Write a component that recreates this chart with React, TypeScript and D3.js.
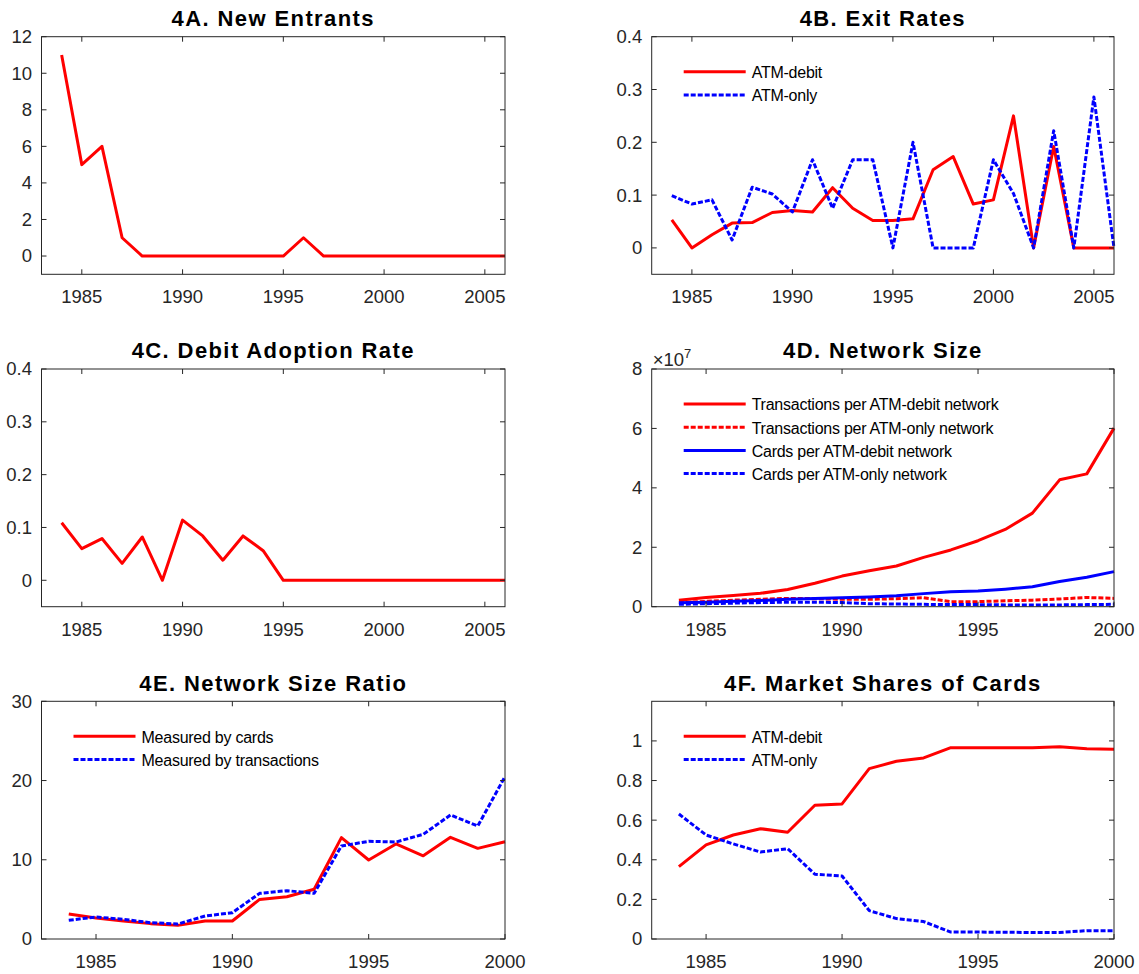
import React from "react";
import * as d3 from "d3";

// ---------- DATA ----------
const yearsLong = d3.range(1984, 2007); // 1984..2006
const yearsShort = d3.range(1984, 2001); // 1984..2000

const newEntrants = [11, 5, 6, 1, 0, 0, 0, 0, 0, 0, 0, 0, 1, 0, 0, 0, 0, 0, 0, 0, 0, 0, 0];

const exitDebit = [0.053, 0, 0.025, 0.047, 0.048, 0.067, 0.071, 0.068, 0.114, 0.075, 0.052, 0.052, 0.055, 0.148, 0.173, 0.083, 0.091, 0.25, 0, 0.192, 0, 0, 0];
const exitOnly = [0.099, 0.083, 0.091, 0.015, 0.115, 0.102, 0.068, 0.167, 0.075, 0.167, 0.167, 0, 0.2, 0, 0, 0, 0.167, 0.103, 0, 0.222, 0, 0.286, 0];

const adoptionRate = [0.109, 0.06, 0.079, 0.032, 0.082, 0, 0.114, 0.084, 0.038, 0.084, 0.056, 0, 0, 0, 0, 0, 0, 0, 0, 0, 0, 0, 0];

// Network size, in units of 10^7
const txDebit = [0.22, 0.31, 0.38, 0.45, 0.58, 0.79, 1.03, 1.21, 1.37, 1.66, 1.91, 2.22, 2.6, 3.15, 4.27, 4.47, 6.01];
const txOnly = [0.13, 0.18, 0.22, 0.25, 0.28, 0.27, 0.25, 0.25, 0.27, 0.3, 0.17, 0.17, 0.2, 0.22, 0.26, 0.31, 0.28];
const cardsDebit = [0.13, 0.15, 0.18, 0.21, 0.25, 0.28, 0.3, 0.33, 0.37, 0.44, 0.5, 0.53, 0.59, 0.67, 0.85, 0.99, 1.18];
const cardsOnly = [0.08, 0.1, 0.12, 0.14, 0.15, 0.15, 0.14, 0.1, 0.09, 0.08, 0.07, 0.07, 0.06, 0.06, 0.06, 0.07, 0.08];

const ratioCards = [3.16, 2.65, 2.27, 1.94, 1.72, 2.27, 2.27, 5.0, 5.34, 6.27, 12.8, 9.97, 12.0, 10.5, 12.83, 11.44, 12.28];
const ratioTx = [2.36, 2.78, 2.48, 2.06, 1.89, 2.9, 3.32, 5.76, 6.1, 5.76, 11.74, 12.33, 12.24, 13.21, 15.65, 14.26, 20.49];

const shareDebit = [0.365, 0.475, 0.525, 0.557, 0.539, 0.675, 0.682, 0.86, 0.897, 0.914, 0.966, 0.966, 0.966, 0.966, 0.97, 0.96, 0.958];
const shareOnly = [0.631, 0.525, 0.48, 0.439, 0.456, 0.327, 0.318, 0.143, 0.103, 0.088, 0.035, 0.035, 0.034, 0.033, 0.033, 0.042, 0.042];

const xTicksLong = [1985, 1990, 1995, 2000, 2005];
const xTicksShort = [1985, 1990, 1995, 2000];
const yTicksA = [0, 2, 4, 6, 8, 10, 12];
const yTicksRate = [0, 0.1, 0.2, 0.3, 0.4];
const yTicksD = [0, 2, 4, 6, 8];
const yTicksE = [0, 10, 20, 30];
const yTicksF = [0, 0.2, 0.4, 0.6, 0.8, 1];

const titles = [
  "4A. New Entrants",
  "4B. Exit Rates",
  "4C. Debit Adoption Rate",
  "4D. Network Size",
  "4E. Network Size Ratio",
  "4F. Market Shares of Cards",
];

// ---------- STYLE ----------
const RED = "#ff0000";
const BLUE = "#0000ff";
const AX = "#262626";
const FONT = "'Liberation Sans', Arial, Helvetica, sans-serif";

const COLS = [
  { x0: 41.5, x1: 505 },
  { x0: 651.7, x1: 1114 },
];
const ROWS = [
  { y0: 36.7, y1: 274.3 },
  { y0: 369, y1: 606.7 },
  { y0: 701.3, y1: 939 },
];

type Series = { name: string; years: number[]; values: number[]; color: string; dashed: boolean };

type PanelProps = {
  title: string;
  col: number;
  row: number;
  xDomain: [number, number];
  yDomain: [number, number];
  xTicks: number[];
  yTicks: number[];
  series: Series[];
  legend: boolean;
  exponent?: string;
};

function fmt(v: number) {
  return String(+v.toFixed(2));
}

function Panel(p: PanelProps) {
  const { x0, x1 } = COLS[p.col];
  const { y0, y1 } = ROWS[p.row];
  const x = d3.scaleLinear().domain(p.xDomain).range([x0, x1]);
  const y = d3.scaleLinear().domain(p.yDomain).range([y1, y0]);
  const line = d3
    .line<[number, number]>()
    .x((d) => x(d[0]))
    .y((d) => y(d[1]));
  const tl = 5;
  return (
    <g>
      <rect x={x0} y={y0} width={x1 - x0} height={y1 - y0} fill="#fff" />
      {p.series.map((s, i) => (
        <path
          key={i}
          d={line(s.years.map((yr, k) => [yr, s.values[k]] as [number, number])) || ""}
          fill="none"
          stroke={s.color}
          strokeWidth={3}
          strokeDasharray={s.dashed ? "5,2" : undefined}
          strokeLinejoin="round"
        />
      ))}
      {/* box */}
      <rect x={x0} y={y0} width={x1 - x0} height={y1 - y0} fill="none" stroke={AX} strokeWidth={1} />
      {/* x ticks */}
      {p.xTicks.map((t) => (
        <g key={"x" + t}>
          <line x1={x(t)} x2={x(t)} y1={y1} y2={y1 - tl} stroke={AX} strokeWidth={1} />
          <line x1={x(t)} x2={x(t)} y1={y0} y2={y0 + tl} stroke={AX} strokeWidth={1} />
          <text x={x(t)} y={y1 + 29} textAnchor="middle" fontFamily={FONT} fontSize={18.5} fill={AX}>
            {t}
          </text>
        </g>
      ))}
      {/* y ticks */}
      {p.yTicks.map((t) => (
        <g key={"y" + t}>
          <line x1={x0} x2={x0 + tl} y1={y(t)} y2={y(t)} stroke={AX} strokeWidth={1} />
          <line x1={x1} x2={x1 - tl} y1={y(t)} y2={y(t)} stroke={AX} strokeWidth={1} />
          <text x={x0 - 9.5} y={y(t)} dy="0.35em" textAnchor="end" fontFamily={FONT} fontSize={18.5} fill={AX}>
            {fmt(t)}
          </text>
        </g>
      ))}
      {p.exponent && (
        <text x={x0 + 1} y={y0 - 3} fontFamily={FONT} fontSize={18.5} fill={AX}>
          {"\u00d710"}
          <tspan fontSize={13} dy={-8}>
            {p.exponent}
          </tspan>
        </text>
      )}
      {/* title */}
      <text
        x={(x0 + x1) / 2}
        y={y0 - 10.7}
        textAnchor="middle"
        fontFamily={FONT}
        fontWeight="bold"
        fontSize={22}
        letterSpacing={1.4}
        fill="#000"
      >
        {p.title}
      </text>
      {/* legend */}
      {p.legend &&
        p.series.map((s, i) => {
          const ly = y0 + 35 + i * 23.2;
          return (
            <g key={"l" + i}>
              <line
                x1={x0 + 32}
                x2={x0 + 94}
                y1={ly}
                y2={ly}
                stroke={s.color}
                strokeWidth={3}
                strokeDasharray={s.dashed ? "5,2" : undefined}
              />
              <text
                x={x0 + 100}
                y={ly}
                dy="0.4em"
                fontFamily={FONT}
                fontSize={16}
                letterSpacing={-0.25}
                fill="#000"
              >
                {s.name}
              </text>
            </g>
          );
        })}
    </g>
  );
}

export default function App() {
  return (
    <svg
      width={1139}
      height={974}
      style={{ position: "absolute", left: 0, top: 0, background: "#fff" }}
    >
      <rect x={0} y={0} width={1139} height={974} fill="#fff" />
      <Panel
        title={titles[0]}
        col={0}
        row={0}
        xDomain={[1983, 2006]}
        yDomain={[-1, 12]}
        xTicks={xTicksLong}
        yTicks={yTicksA}
        legend={false}
        series={[{ name: "New entrants", years: yearsLong, values: newEntrants, color: RED, dashed: false }]}
      />
      <Panel
        title={titles[1]}
        col={1}
        row={0}
        xDomain={[1983, 2006]}
        yDomain={[-0.05, 0.4]}
        xTicks={xTicksLong}
        yTicks={yTicksRate}
        legend={true}
        series={[
          { name: "ATM-debit", years: yearsLong, values: exitDebit, color: RED, dashed: false },
          { name: "ATM-only", years: yearsLong, values: exitOnly, color: BLUE, dashed: true },
        ]}
      />
      <Panel
        title={titles[2]}
        col={0}
        row={1}
        xDomain={[1983, 2006]}
        yDomain={[-0.05, 0.4]}
        xTicks={xTicksLong}
        yTicks={yTicksRate}
        legend={false}
        series={[{ name: "Debit adoption", years: yearsLong, values: adoptionRate, color: RED, dashed: false }]}
      />
      <Panel
        title={titles[3]}
        col={1}
        row={1}
        xDomain={[1983, 2000]}
        yDomain={[0, 8]}
        xTicks={xTicksShort}
        yTicks={yTicksD}
        legend={true}
        exponent="7"
        series={[
          { name: "Transactions per ATM-debit network", years: yearsShort, values: txDebit, color: RED, dashed: false },
          { name: "Transactions per ATM-only network", years: yearsShort, values: txOnly, color: RED, dashed: true },
          { name: "Cards per ATM-debit network", years: yearsShort, values: cardsDebit, color: BLUE, dashed: false },
          { name: "Cards per ATM-only network", years: yearsShort, values: cardsOnly, color: BLUE, dashed: true },
        ]}
      />
      <Panel
        title={titles[4]}
        col={0}
        row={2}
        xDomain={[1983, 2000]}
        yDomain={[0, 30]}
        xTicks={xTicksShort}
        yTicks={yTicksE}
        legend={true}
        series={[
          { name: "Measured by cards", years: yearsShort, values: ratioCards, color: RED, dashed: false },
          { name: "Measured by transactions", years: yearsShort, values: ratioTx, color: BLUE, dashed: true },
        ]}
      />
      <Panel
        title={titles[5]}
        col={1}
        row={2}
        xDomain={[1983, 2000]}
        yDomain={[0, 1.2]}
        xTicks={xTicksShort}
        yTicks={yTicksF}
        legend={true}
        series={[
          { name: "ATM-debit", years: yearsShort, values: shareDebit, color: RED, dashed: false },
          { name: "ATM-only", years: yearsShort, values: shareOnly, color: BLUE, dashed: true },
        ]}
      />
    </svg>
  );
}
